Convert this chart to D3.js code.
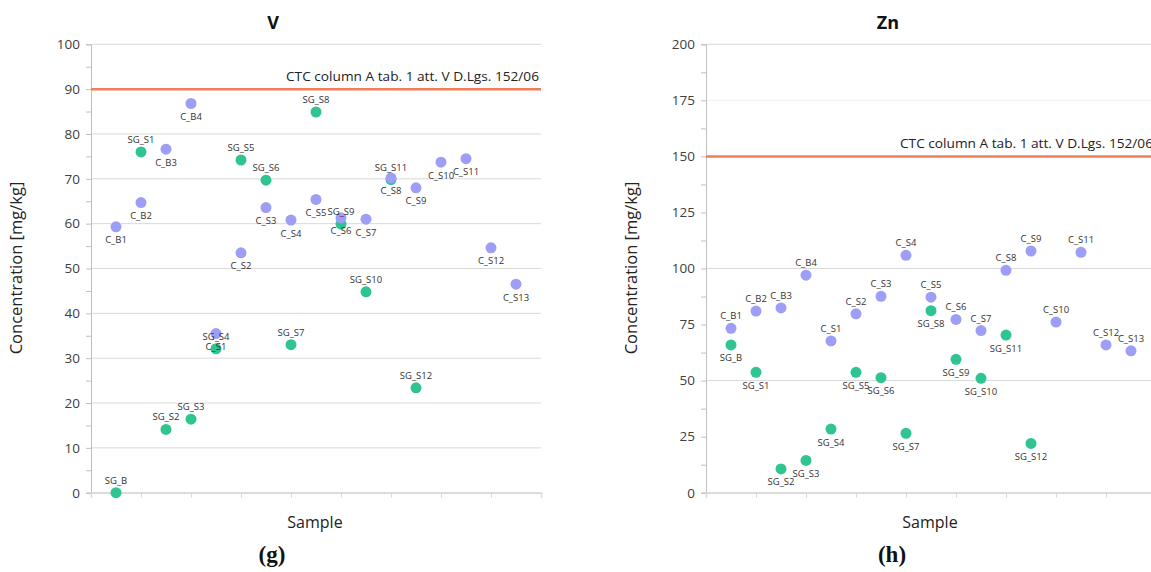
<!DOCTYPE html>
<html>
<head>
<meta charset="utf-8">
<script src="https://cdn.jsdelivr.net/npm/d3@7"></script>
<style>
  body { margin: 0; background: #fff; }
  svg { display: block; font-family: "Open Sans", "Noto Sans", sans-serif; }
</style>
</head>
<body>
<svg id="chart" width="1151" height="572"></svg>
<script>
// sample positions along the x axis (Excel scatter, 1..17)
const cX = [1, 2, 3, 4, 5, 6, 7, 8, 9, 10, 11, 12, 13, 14, 15, 16, 17];
const sgX = [1, 2, 3, 4, 5, 6, 7, 8, 9, 10, 11, 12, 13];

const cLabels = ["C_B1", "C_B2", "C_B3", "C_B4", "C_S1", "C_S2", "C_S3", "C_S4", "C_S5",
  "C_S6", "C_S7", "C_S8", "C_S9", "C_S10", "C_S11", "C_S12", "C_S13"];
const sgLabels = ["SG_B", "SG_S1", "SG_S2", "SG_S3", "SG_S4", "SG_S5", "SG_S6", "SG_S7",
  "SG_S8", "SG_S9", "SG_S10", "SG_S11", "SG_S12"];

// V [mg/kg]
const vC = [59.3, 64.7, 76.6, 86.8, 35.5, 53.5, 63.6, 60.8, 65.4, 61.3, 61.0, 70.2, 68.0, 73.7, 74.5, 54.6, 46.5];
const vSG = [0, 76.0, 14.1, 16.4, 32.1, 74.2, 69.7, 33.0, 84.9, 59.9, 44.8, 69.8, 23.4];
// Zn [mg/kg]
const znC = [73.3, 81.0, 82.4, 97.0, 67.7, 79.8, 87.6, 105.9, 87.2, 77.3, 72.3, 99.2, 107.8, 76.1, 107.2, 65.9, 63.3];
const znSG = [65.9, 53.7, 10.6, 14.4, 28.4, 53.7, 51.3, 26.5, 81.2, 59.5, 51.0, 70.3, 22.0];

const vTicks = [0, 10, 20, 30, 40, 50, 60, 70, 80, 90, 100];
const vGrid = [0, 10, 20, 30, 40, 50, 60, 70, 80, 90, 100];
const znTicks = [0, 25, 50, 75, 100, 125, 150, 175, 200];
const znGrid = [0, 50, 100, 200];
const xTicks = [0, 2, 4, 6, 8, 10, 12, 14, 16, 18];

const vLimit = 90, znLimit = 150;
const limitText = "CTC column A tab. 1 att. V D.Lgs. 152/06";

const C_COLOR = "#9e9ef6", SG_COLOR = "#30c490", LIMIT_COLOR = "#ef7d57";

const svg = d3.select("#chart");

function panel(opt) {
  const x = d3.scaleLinear().domain([0, 18]).range([opt.left, opt.left + 450]);
  const y = d3.scaleLinear().domain([0, opt.max]).range([492.7, 44.3]);
  const g = svg.append("g");

  // gridlines
  g.selectAll(".grid").data(opt.grid).join("line")
    .attr("x1", opt.left).attr("x2", opt.left + 450)
    .attr("y1", d => y(d)).attr("y2", d => y(d))
    .attr("stroke", "#d9d9d9").attr("stroke-width", 1);
  if (opt.faint) {
    g.append("line")
      .attr("x1", opt.left).attr("x2", opt.left + 450)
      .attr("y1", y(opt.faint)).attr("y2", y(opt.faint))
      .attr("stroke", "#f0f0f0");
  }

  // y axis with minor ticks
  const yAxis = d3.axisLeft(y).tickValues(opt.minor).tickSize(5)
    .tickFormat(d => opt.ticks.includes(d) ? d : "").tickPadding(6);
  const ya = g.append("g").attr("transform", `translate(${opt.left},0)`).call(yAxis);
  ya.select(".domain").attr("stroke", "#bfbfbf");
  ya.selectAll(".tick line").attr("stroke", "#bfbfbf");
  ya.selectAll(".tick text").attr("fill", "#404040")
    .style("font-size", "13.5px").style("font-family", "Open Sans");

  // x axis (no labels)
  const xAxis = d3.axisBottom(x).tickValues(xTicks).tickSize(5).tickFormat("");
  const xa = g.append("g").attr("transform", `translate(0,${y(0)})`).call(xAxis);
  xa.select(".domain").attr("stroke", "#d9d9d9").attr("stroke-width", 1.5);
  xa.selectAll(".tick line").attr("stroke", "#d9d9d9");

  // limit line
  g.append("line")
    .attr("x1", opt.left).attr("x2", opt.left + 450)
    .attr("y1", y(opt.limit)).attr("y2", y(opt.limit))
    .attr("stroke", LIMIT_COLOR).attr("stroke-width", 2.5);
  const lt = g.append("text")
    .attr("y", y(opt.limit) - 8)
    .attr("fill", "#222").style("font-size", "13.5px")
    .attr("textLength", 253).attr("lengthAdjust", "spacingAndGlyphs")
    .text(limitText);
  if (opt.limitAnchor === "end") lt.attr("x", opt.left + 448).attr("text-anchor", "end");
  else lt.attr("x", opt.limitX);

  // points
  const sg = sgX.map((d, i) => ({x: d, v: opt.sg[i], label: sgLabels[i]}));
  const c = cX.map((d, i) => ({x: d, v: opt.c[i], label: cLabels[i]}));
  g.selectAll(".sg").data(sg).join("circle")
    .attr("cx", d => x(d.x)).attr("cy", d => y(d.v)).attr("r", 5.5).attr("fill", SG_COLOR);
  g.selectAll(".c").data(c).join("circle")
    .attr("cx", d => x(d.x)).attr("cy", d => y(d.v)).attr("r", 5.5).attr("fill", C_COLOR);

  const lab = (data, above) => g.selectAll(null).data(data).join("text")
    .attr("x", d => x(d.x))
    .attr("y", d => y(d.v) + (above ? -9 : 16.5))
    .attr("text-anchor", "middle").attr("fill", "#333")
    .style("font-size", "9.5px")
    .text(d => d.label);
  lab(sg, opt.sgAbove);
  lab(c, !opt.sgAbove);

  // titles
  g.append("text").attr("x", opt.titleX).attr("y", 29).attr("text-anchor", "middle")
    .style("font-size", "18px").style("font-weight", "bold").attr("fill", "#111")
    .text(opt.title);
  g.append("text").attr("transform", `translate(${opt.left - 69},268) rotate(-90)`)
    .attr("text-anchor", "middle").style("font-size", "16.5px").attr("fill", "#222")
    .text("Concentration [mg/kg]");
  g.append("text").attr("x", opt.sampleX).attr("y", 528).attr("text-anchor", "middle")
    .style("font-size", "16px").attr("fill", "#222").text("Sample");
  g.append("text").attr("x", opt.panelX).attr("y", 562).attr("text-anchor", "middle")
    .style("font-family", "Liberation Serif, DejaVu Serif, serif")
    .style("font-size", "23px").style("font-weight", "bold").attr("fill", "#111")
    .text(opt.panel);
}

panel({left: 91, max: 100, ticks: vTicks, minor: d3.range(0, 101, 5), grid: vGrid,
  c: vC, sg: vSG, limit: vLimit, limitAnchor: "end", sgAbove: true,
  title: "V", titleX: 273, sampleX: 315, panel: "(g)", panelX: 272});

panel({left: 706, max: 200, ticks: znTicks, minor: d3.range(0, 201, 12.5), grid: znGrid, faint: 175,
  c: znC, sg: znSG, limit: znLimit, limitX: 900, sgAbove: false,
  title: "Zn", titleX: 888, sampleX: 930, panel: "(h)", panelX: 892});
</script>
</body>
</html>
